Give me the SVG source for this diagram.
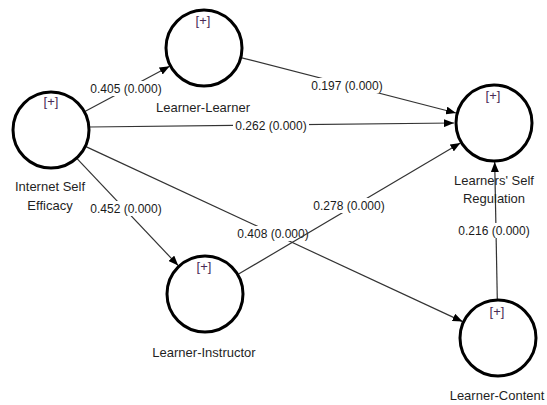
<svg xmlns="http://www.w3.org/2000/svg" width="547" height="405" viewBox="0 0 547 405">
<style>
.node{fill:#fff;stroke:#000;stroke-width:3}
.edge{stroke:#333;stroke-width:1.2;fill:none}
.lbl{font-family:"Liberation Sans",Arial,sans-serif;font-size:12px;fill:#1a1a1a;text-anchor:middle}
.nl{font-family:"Liberation Sans",Arial,sans-serif;font-size:13px;fill:#1f1f1f;text-anchor:middle}
.plus{font-family:"Liberation Sans",Arial,sans-serif;font-size:13px;fill:#4a2a55;text-anchor:middle}
.bg{fill:#fff}
</style>
<defs>
<marker id="arr" markerWidth="10" markerHeight="8" refX="10" refY="4" orient="auto" markerUnits="userSpaceOnUse">
<path d="M0,0 L10,4 L0,8 Z" fill="#000"/>
</marker>
</defs>
<g id="connectors">
<line class="edge" x1="84.4" y1="111.7" x2="169.6" y2="66.3" marker-end="url(#arr)"/>
<rect class="bg" x="88" y="81" width="76" height="15"/>
<text class="lbl" x="126" y="93">0.405 (0.000)</text>
<line class="edge" x1="89" y1="127" x2="454" y2="123" marker-end="url(#arr)"/>
<rect class="bg" x="233" y="118" width="76" height="14"/>
<text class="lbl" x="271" y="130">0.262 (0.000)</text>
<line class="edge" x1="241.8" y1="57.8" x2="456" y2="113" marker-end="url(#arr)"/>
<rect class="bg" x="309" y="78" width="76" height="15"/>
<text class="lbl" x="347" y="90">0.197 (0.000)</text>
<line class="edge" x1="76.8" y1="158.4" x2="178.2" y2="265.6" marker-end="url(#arr)"/>
<rect class="bg" x="88" y="201" width="76" height="15"/>
<text class="lbl" x="126" y="213">0.452 (0.000)</text>
<line class="edge" x1="85.4" y1="146.4" x2="462.6" y2="321.6" marker-end="url(#arr)"/>
<rect class="bg" x="235" y="226" width="76" height="15"/>
<text class="lbl" x="273" y="238">0.408 (0.000)</text>
<line class="edge" x1="238.6" y1="274.1" x2="460.4" y2="142.9" marker-end="url(#arr)"/>
<rect class="bg" x="311" y="198" width="76" height="15"/>
<text class="lbl" x="349" y="210">0.278 (0.000)</text>
<line class="edge" x1="497.3" y1="299" x2="494.7" y2="162" marker-end="url(#arr)"/>
<rect class="bg" x="456" y="223" width="76" height="15"/>
<text class="lbl" x="494" y="235">0.216 (0.000)</text>
</g>
<g id="ise">
<circle class="node" cx="51" cy="130" r="38"/>
<text class="plus" x="51" y="106">[+]</text>
<text class="nl" x="50" y="191">Internet Self</text>
<text class="nl" x="50" y="210">Efficacy</text>
</g>
<g id="ll">
<circle class="node" cx="204" cy="48" r="38"/>
<text class="plus" x="203" y="25">[+]</text>
<text class="nl" x="203" y="112">Learner-Learner</text>
</g>
<g id="lsr">
<circle class="node" cx="494" cy="123" r="38"/>
<text class="plus" x="493" y="100">[+]</text>
<text class="nl" x="494" y="185">Learners' Self</text>
<text class="nl" x="494" y="203">Regulation</text>
</g>
<g id="li">
<circle class="node" cx="205" cy="294" r="38"/>
<text class="plus" x="204" y="271">[+]</text>
<text class="nl" x="204" y="357">Learner-Instructor</text>
</g>
<g id="lc">
<circle class="node" cx="498" cy="338" r="38"/>
<text class="plus" x="497" y="316">[+]</text>
<text class="nl" x="497" y="400">Learner-Content</text>
</g>
</svg>
